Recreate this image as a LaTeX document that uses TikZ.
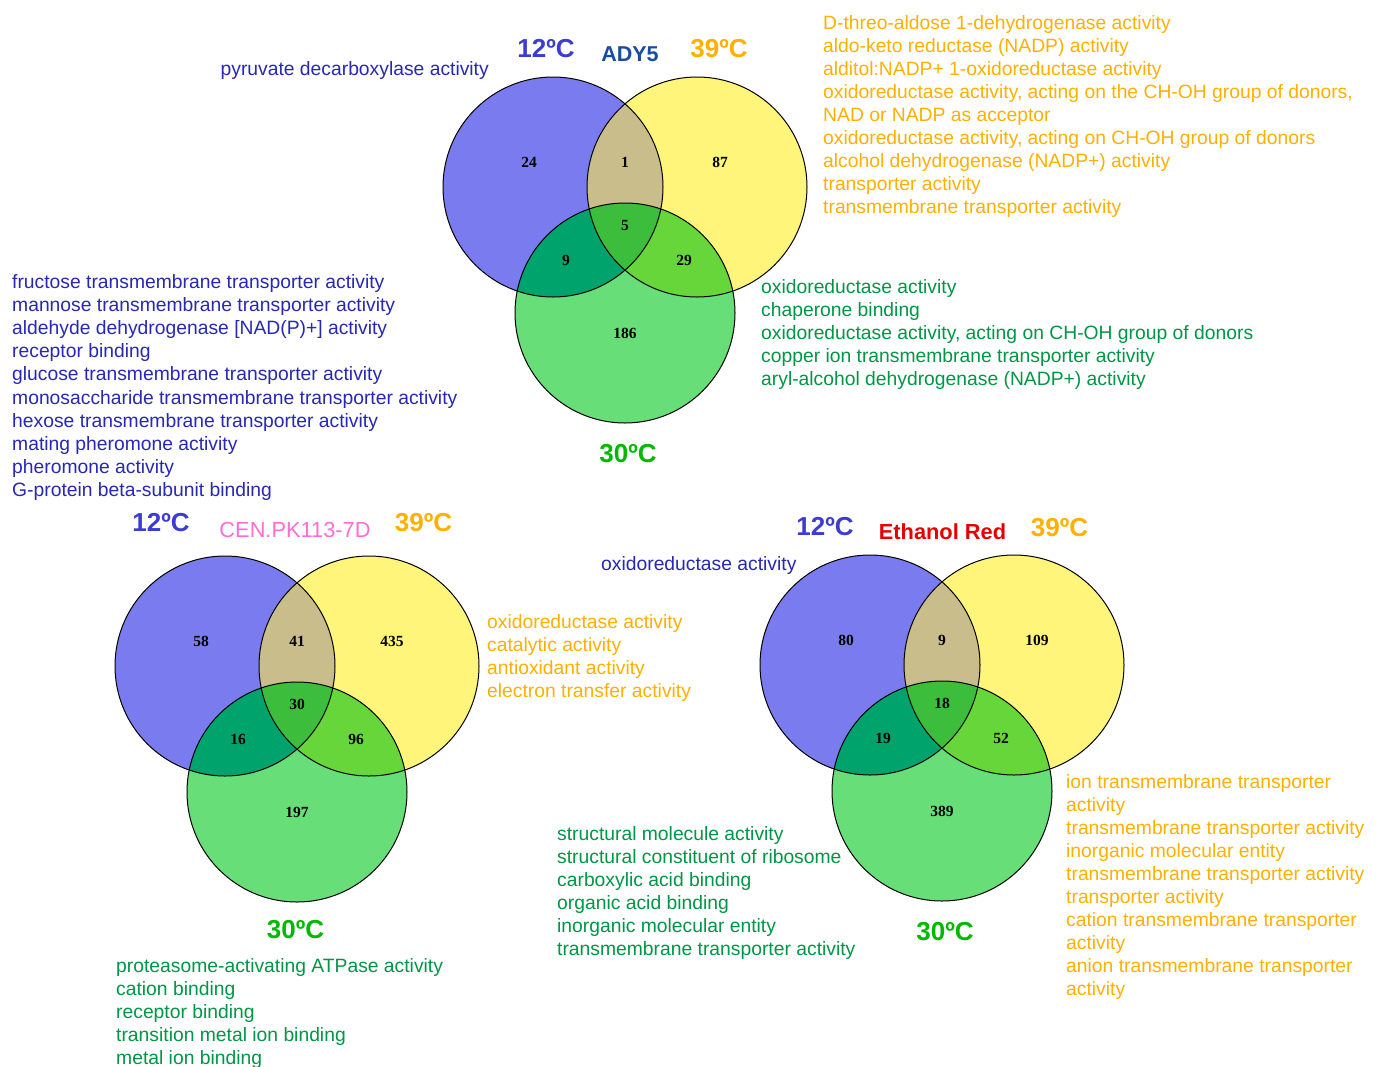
\documentclass[tikz,border=0pt]{standalone}
\usepackage{fontspec}
\setmainfont{Liberation Sans}
\newfontfamily\numfont{Liberation Serif}
\definecolor{vblue}{RGB}{123,123,240}
\definecolor{vyellow}{RGB}{255,245,122}
\definecolor{vgreen}{RGB}{104,222,120}
\definecolor{vby}{RGB}{201,189,140}
\definecolor{vbg}{RGB}{0,163,107}
\definecolor{vyg}{RGB}{102,214,58}
\definecolor{vall}{RGB}{60,190,60}
\definecolor{tblue}{RGB}{40,40,180}
\definecolor{torange}{RGB}{255,176,0}
\definecolor{tgreen}{RGB}{0,150,70}
\definecolor{lblue}{RGB}{60,60,210}
\definecolor{lgreen}{RGB}{0,185,0}
\definecolor{adyblue}{RGB}{25,75,160}
\definecolor{cenpink}{RGB}{255,110,210}
\definecolor{ethred}{RGB}{230,0,0}
\tikzset{
  listtext/.style={anchor=base west, inner sep=0pt, font=\fontsize{19.3}{23}\selectfont},
  num/.style={inner sep=0pt, font=\numfont\bfseries\fontsize{15.5}{15.5}\selectfont},
  templabel/.style={inner sep=0pt, font=\bfseries\fontsize{26}{28}\selectfont},
  strainlabel/.style={inner sep=0pt, font=\fontsize{21.8}{24}\selectfont},
  vline/.style={draw=black, line width=1pt}
}
\newcommand\vennbody[3]{%
  \begin{scope}[shift={(#2,#3)}]
    \coordinate (#1-O) at (0,0);
    \coordinate (#1-A) at (-72,0);
    \coordinate (#1-B) at (72,0);
    \coordinate (#1-C) at (0,126);
    \fill[vblue] (#1-A) circle (110pt);
    \fill[vyellow] (#1-B) circle (110pt);
    \fill[vgreen] (#1-C) circle (110pt);
    \begin{scope}
      \clip (#1-A) circle (110pt);
      \fill[vby] (#1-B) circle (110pt);
      \fill[vbg] (#1-C) circle (110pt);
    \end{scope}
    \begin{scope}
      \clip (#1-B) circle (110pt);
      \fill[vyg] (#1-C) circle (110pt);
    \end{scope}
    \begin{scope}
      \clip (#1-A) circle (110pt);
      \clip (#1-B) circle (110pt);
      \fill[vall] (#1-C) circle (110pt);
    \end{scope}
    \draw[vline] (#1-A) circle (110pt) (#1-B) circle (110pt) (#1-C) circle (110pt);
  \end{scope}}
\newcommand\vennnums[8]{%
  \begin{scope}[shift={(#1-O)}]
    \node[num] (#1-na) at (-96,-25) {#2};
    \node[num] (#1-nab) at (0,-25) {#3};
    \node[num] (#1-nb) at (95,-25) {#4};
    \node[num] (#1-nabc) at (0,38) {#5};
    \node[num] (#1-nac) at (-59,73) {#6};
    \node[num] (#1-nbc) at (59,73) {#7};
    \node[num] (#1-nc) at (0,146) {#8};
  \end{scope}}
\begin{document}
\begin{tikzpicture}[x=1pt,y=-1pt]
\useasboundingbox[fill=white] (0,0) rectangle (1381,1066);

% ===== ADY5 =====
\vennbody{ady}{625}{187}
\vennnums{ady}{24}{1}{87}{5}{9}{29}{186}
\node[templabel, text=lblue] (ady-t12) at (546,49) {12ºC};
\node[strainlabel, font=\bfseries\fontsize{21.5}{24}\selectfont, text=adyblue] (ady-name) at (630,54) {ADY5};
\node[templabel, text=torange] (ady-t39) at (719,49) {39ºC};
\node[templabel, text=lgreen] (ady-t30) at (628,454) {30ºC};
\node[listtext, anchor=base east, text=tblue] (ady-blue1) at (489,75) {pyruvate decarboxylase activity};
\foreach \t [count=\i] in {D-threo-aldose 1-dehydrogenase activity,
  aldo-keto reductase (NADP) activity,
  alditol:NADP+ 1-oxidoreductase activity,
  {oxidoreductase activity, acting on the CH-OH group of donors,},
  NAD or NADP as acceptor,
  {oxidoreductase activity, acting on CH-OH group of donors},
  alcohol dehydrogenase (NADP+) activity,
  transporter activity,
  transmembrane transporter activity}
  {\node[listtext, text=torange] (ady-or\i) at (823,{22+23.1*(\i-1)+7}) {\t};}
\foreach \t [count=\i] in {oxidoreductase activity,
  chaperone binding,
  {oxidoreductase activity, acting on CH-OH group of donors},
  copper ion transmembrane transporter activity,
  aryl-alcohol dehydrogenase (NADP+) activity}
  {\node[listtext, text=tgreen] (ady-gr\i) at (761,{286+23.1*(\i-1)+7}) {\t};}
\foreach \t [count=\i] in {fructose transmembrane transporter activity,
  mannose transmembrane transporter activity,
  aldehyde dehydrogenase [NAD(P)+] activity,
  receptor binding,
  glucose transmembrane transporter activity,
  monosaccharide transmembrane transporter activity,
  hexose transmembrane transporter activity,
  mating pheromone activity,
  pheromone activity,
  G-protein beta-subunit binding}
  {\node[listtext, text=tblue] (ady-bl\i) at (12,{281.5+23.1*(\i-1)+7}) {\t};}

% ===== CEN.PK113-7D =====
\vennbody{cen}{297}{666}
\vennnums{cen}{58}{41}{435}{30}{16}{96}{197}
\node[templabel, text=lblue] (cen-t12) at (161,523) {12ºC};
\node[strainlabel, text=cenpink] (cen-name) at (295,529.5) {CEN.PK113-7D};
\node[templabel, text=torange] (cen-t39) at (423.5,523) {39ºC};
\node[templabel, text=lgreen] (cen-t30) at (295.5,929.5) {30ºC};
\foreach \t [count=\i] in {oxidoreductase activity,
  catalytic activity,
  antioxidant activity,
  electron transfer activity}
  {\node[listtext, text=torange] (cen-or\i) at (487,{621+23.1*(\i-1)+7}) {\t};}
\foreach \t [count=\i] in {proteasome-activating ATPase activity,
  cation binding,
  receptor binding,
  transition metal ion binding,
  metal ion binding}
  {\node[listtext, text=tgreen] (cen-gr\i) at (116,{966+23*(\i-1)+6}) {\t};}

% ===== Ethanol Red =====
\vennbody{eth}{942}{665}
\vennnums{eth}{80}{9}{109}{18}{19}{52}{389}
\node[templabel, text=lblue] (eth-t12) at (825,527) {12ºC};
\node[strainlabel, font=\bfseries\fontsize{21.8}{24}\selectfont, text=ethred] (eth-name) at (942.5,532) {Ethanol Red};
\node[templabel, text=torange] (eth-t39) at (1059.5,528) {39ºC};
\node[templabel, text=lgreen] (eth-t30) at (945,932) {30ºC};
\node[listtext, text=tblue] (eth-blue1) at (601,570) {oxidoreductase activity};
\foreach \t [count=\i] in {structural molecule activity,
  structural constituent of ribosome,
  carboxylic acid binding,
  organic acid binding,
  inorganic molecular entity,
  transmembrane transporter activity}
  {\node[listtext, text=tgreen] (eth-gr\i) at (557,{833+23.1*(\i-1)+7}) {\t};}
\foreach \t [count=\i] in {ion transmembrane transporter,
  activity,
  transmembrane transporter activity,
  inorganic molecular entity,
  transmembrane transporter activity,
  transporter activity,
  cation transmembrane transporter,
  activity,
  anion transmembrane transporter,
  activity}
  {\node[listtext, text=torange] (eth-or\i) at (1066,{781+23.1*(\i-1)+7}) {\t};}
\end{tikzpicture}
\end{document}
